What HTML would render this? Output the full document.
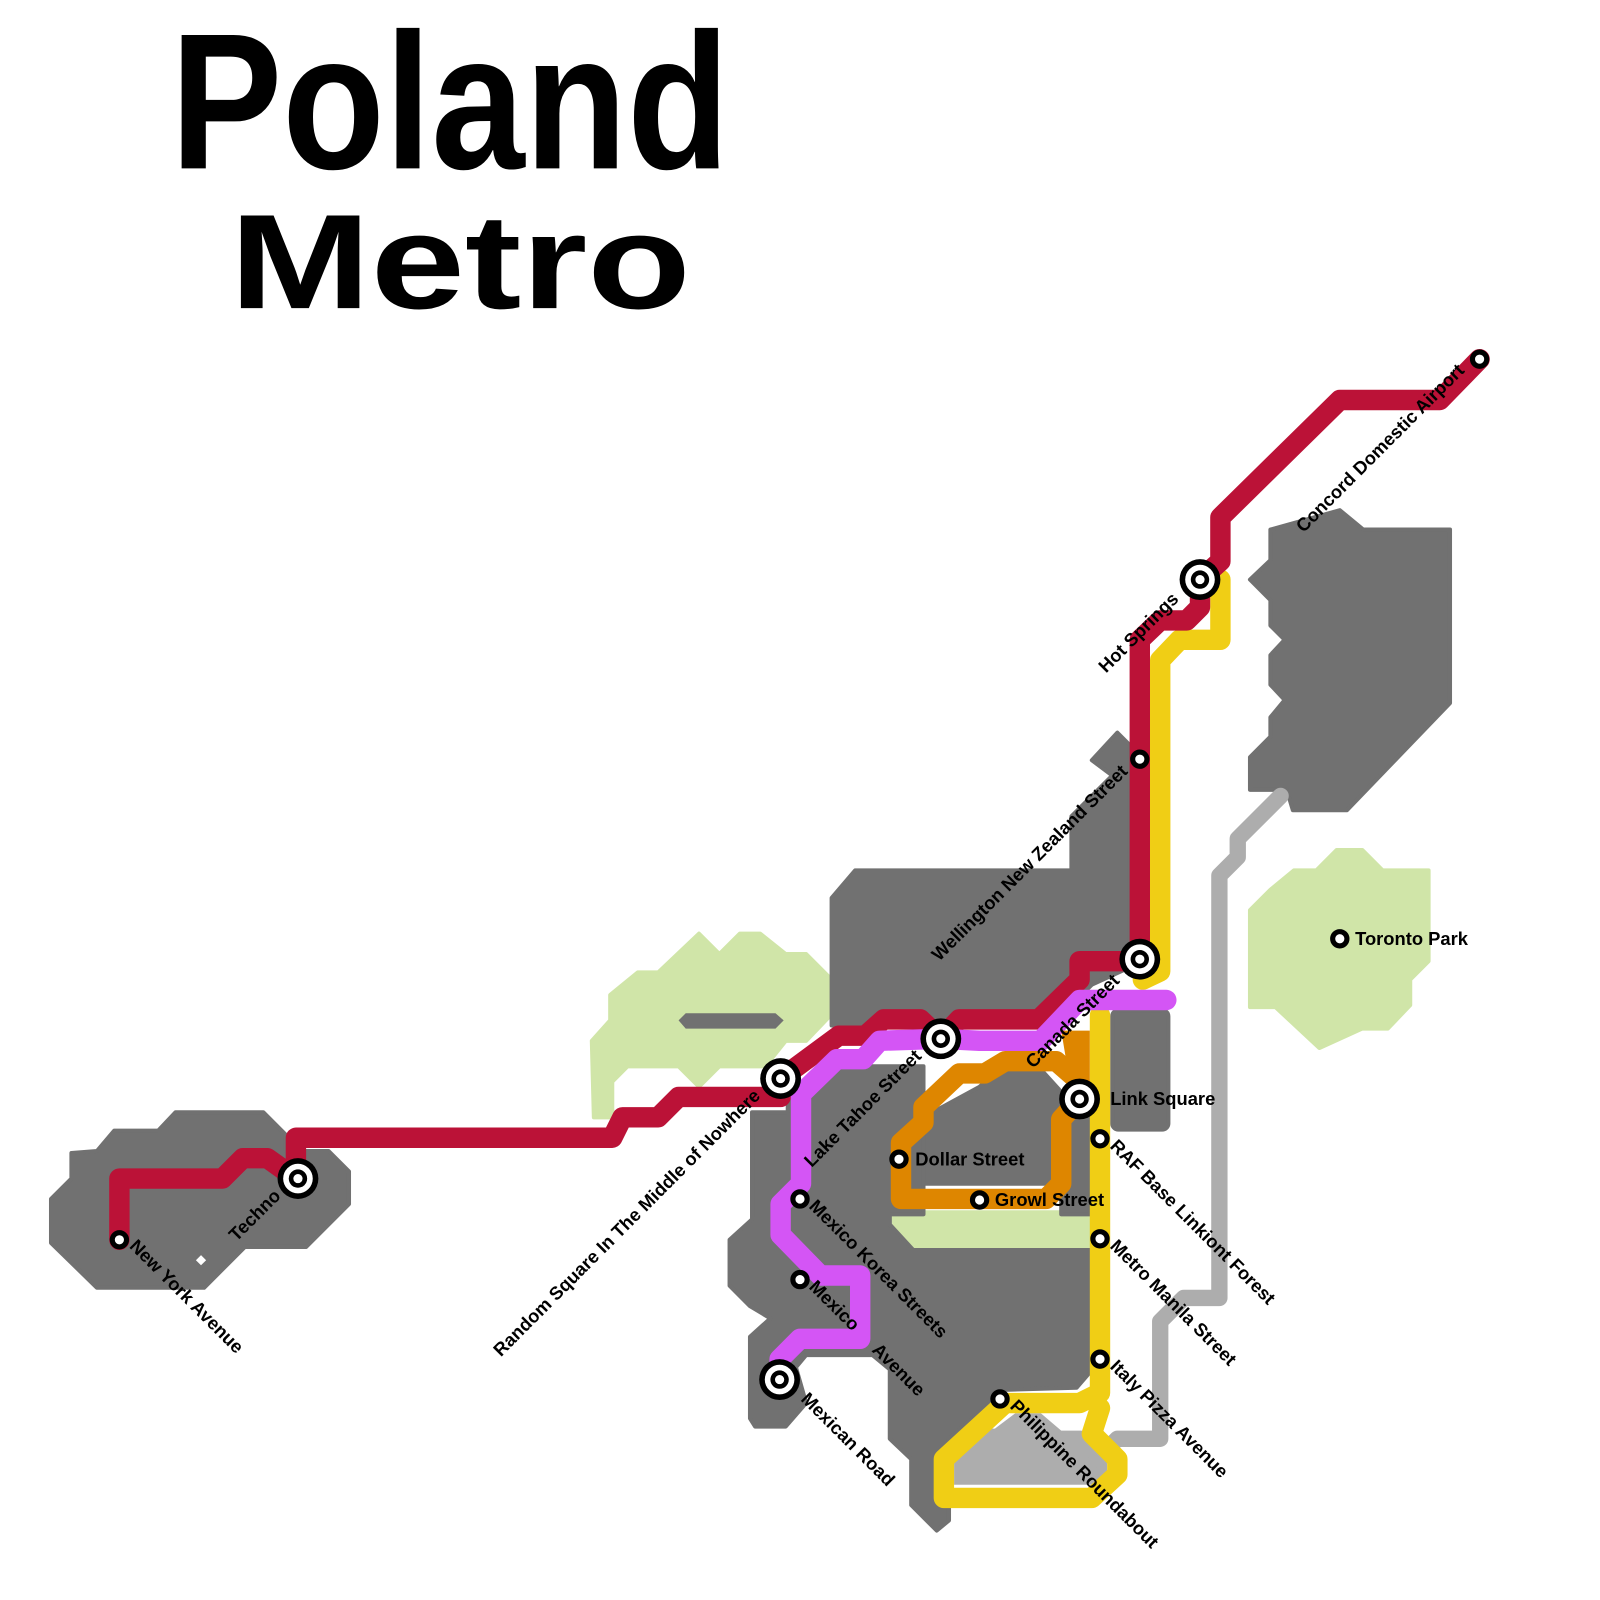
<!DOCTYPE html>
<html><head><meta charset="utf-8"><style>
html,body{margin:0;padding:0;background:#fff;}
svg{display:block}
text{font-family:"Liberation Sans",sans-serif;font-weight:bold;}
</style></head><body>
<svg width="1600" height="1600" viewBox="0 0 1568 1568" xmlns="http://www.w3.org/2000/svg">
<defs>
<g id="ic"><circle r="20" fill="#000"/><circle r="14.5" fill="#fff"/><circle r="9" fill="#000"/><circle r="4.5" fill="#fff"/></g>
</defs>
<rect width="1568" height="1568" fill="#fff"/>
<!-- title -->
<text x="167" y="165" font-size="190" textLength="548" lengthAdjust="spacingAndGlyphs">Poland</text>
<text x="225" y="302" font-size="132" textLength="452" lengthAdjust="spacingAndGlyphs">Metro</text>

<g stroke-linejoin="round" stroke-linecap="round">
<g fill="#d0e5a8" stroke="#d0e5a8" stroke-width="4">
<polygon points="598,975 625,953 645,953 685,915 705,935 725,915 745,915 770,935 790,935 812,957 812,997 790,1020 770,1020 750,1045 705,1045 685,1065 665,1045 615,1045 600,1060 600,1095 582,1095 580,1020 598,1000"/>
<polygon points="1268,853 1290,853 1310,833 1335,833 1355,853 1400,853 1400,942 1382,960 1382,985 1360,1008 1335,1008 1293,1027 1250,987 1225,987 1225,892 1245,872"/>
<polygon points="872,1188 1068,1188 1068,1222 895,1222 872,1200"/>
</g>
<polygon points="672,993 760,993 768,1000 760,1008 672,1008 665,1000" fill="#717171"/>

<g fill="#717171" stroke="#717171" stroke-width="4">
<polygon points="1245,519 1313,500 1336,519 1421,519 1421,689 1320,794 1267,794 1261,774 1225,774 1225,742 1245,722 1245,703 1259,686 1245,671 1245,642 1259,627 1245,613 1245,588 1225,568 1245,549"/>
<polygon points="50,1175 70,1155 70,1130 95,1128 112,1108 155,1108 172,1090 258,1090 280,1112 280,1128 322,1128 342,1148 342,1180 300,1222 240,1222 200,1262 95,1262 50,1218"/>
<polygon points="815,880 838,853 1050,853 1050,800 1090,760 1070,745 1095,718 1107,730 1107,948 1070,965 1040,995 1000,1005 815,1005"/>
<polygon points="715,1215 737,1195 737,1090 772,1090 772,1070 815,1045 905,1045 905,1190 872,1190 872,1200 895,1225 1068,1225 1068,1345 1055,1360 985,1362 930,1410 930,1490 918,1500 893,1475 893,1430 872,1410 872,1342 855,1328 790,1328 780,1340 790,1375 770,1398 740,1398 735,1390 735,1310 755,1292 735,1280 715,1260"/>
<polygon points="905,1095 960,1065 980,1048 1020,1048 1040,1070 1040,1160 905,1160"/>
<polygon points="1040,1100 1068,1085 1068,1190 1040,1190"/>
<rect x="1090" y="990" width="55" height="117" rx="6"/>
</g>
<polygon points="192,1235 197,1230 202,1235 197,1240" fill="#fff"/>

<polygon points="935,1420 960,1400 975,1400 995,1385 1020,1385 1040,1402 1060,1402 1085,1425 1085,1455 935,1455" fill="#adadad"/>

<g fill="none" stroke-width="20">
<path d="M1255,780 L1213,822 L1213,840 L1195,858 L1195,1272 L1160,1272 L1137,1295 L1137,1410 L1095,1410 L1075,1430" stroke="#adadad" stroke-width="16"/>
<path d="M1176,568 L1196,568 L1196,627 L1156,627 L1137,647 L1137,952 L1120,960" stroke="#f0ce15"/>
<path d="M1078,995 L1078,1365 L1058,1375 L985,1375 L925,1430 L925,1468 L1070,1468 L1095,1445 L1095,1430 L1070,1405 L1078,1380" stroke="#f0ce15"/>
<path d="M1058,1077 L1040,1097 L1040,1160 L1025,1175 L883,1175 L883,1120 L905,1100 L905,1085 L940,1052 L965,1052 L985,1040 L1035,1040 L1058,1060" stroke="#de8600"/>
<path d="M1450,352 L1411,392 L1313,392 L1196,507 L1196,550 L1176,568 L1176,595 L1163,608 L1137,608 L1117,627 L1117,942 L1058,942 L1058,960 L1018,999 L940,999 L922,1018 L902,999 L866,999 L848,1015 L822,1015 L765,1057 L765,1075 L665,1075 L645,1095 L610,1095 L600,1115 L290,1115 L290,1155 L262,1135 L238,1135 L218,1155 L117,1155 L117,1215" stroke="#bb1237"/>
<path d="M1143,980 L1058,980 L1020,1020 L960,1020 L922,1018 L862,1020 L846,1038 L820,1038 L785,1072 L785,1160 L765,1180 L765,1210 L804,1250 L843,1250 L843,1312 L784,1312 L764,1332 L764,1352" stroke="#d455f5"/>
</g>
<polygon points="1040,1010 1068,1010 1068,1070 1045,1040" fill="#de8600"/>
</g>

<use href="#ic" x="1176" y="568"/>
<use href="#ic" x="1117" y="940"/>
<use href="#ic" x="1058" y="1077"/>
<use href="#ic" x="922" y="1018"/>
<use href="#ic" x="765" y="1057"/>
<use href="#ic" x="292" y="1155"/>
<use href="#ic" x="764" y="1352"/>
<g fill="#fff" stroke="#000" stroke-width="5">
<circle cx="1450" cy="352" r="7"/>
<circle cx="1117" cy="744" r="7"/>
<circle cx="117" cy="1215" r="7"/>
<circle cx="784" cy="1175" r="7"/>
<circle cx="784" cy="1254" r="7"/>
<circle cx="881" cy="1136" r="7"/>
<circle cx="960" cy="1176" r="7"/>
<circle cx="1078" cy="1116" r="7"/>
<circle cx="1078" cy="1214" r="7"/>
<circle cx="1078" cy="1332" r="7"/>
<circle cx="980" cy="1371" r="7"/>
<circle cx="1313" cy="920" r="7"/>
</g>

<g font-size="18" fill="#000">
<text transform="translate(1436,364) rotate(-45)" text-anchor="end">Concord Domestic Airport</text>
<text transform="translate(1156,588) rotate(-45)" text-anchor="end">Hot Springs</text>
<text transform="translate(1106,757) rotate(-45)" text-anchor="end">Wellington New Zealand Street</text>
<text transform="translate(1098,962) rotate(-45)" text-anchor="end">Canada Street</text>
<text x="1088" y="1083">Link Square</text>
<text transform="translate(904,1036) rotate(-45)" text-anchor="end">Lake Tahoe Street</text>
<text transform="translate(746,1075) rotate(-45)" text-anchor="end">Random Square In The Middle of Nowhere</text>
<text transform="translate(276,1173) rotate(-45)" text-anchor="end">Techno</text>
<text transform="translate(126,1222) rotate(45)">New York Avenue</text>
<text transform="translate(792,1183) rotate(45)">Mexico Korea Streets</text>
<text transform="translate(792,1262) rotate(45)" word-spacing="22">Mexico Avenue</text>
<text transform="translate(784,1372) rotate(45)">Mexican Road</text>
<text x="897" y="1142">Dollar Street</text>
<text x="975" y="1182">Growl Street</text>
<text transform="translate(1087,1124) rotate(45)">RAF Base Linkiont Forest</text>
<text transform="translate(1087,1222) rotate(45)">Metro Manila Street</text>
<text transform="translate(1087,1340) rotate(45)">Italy Pizza Avenue</text>
<text transform="translate(989,1379) rotate(45)">Philippine Roundabout</text>
<text x="1328" y="926">Toronto Park</text>
</g>
</svg>
</body></html>
